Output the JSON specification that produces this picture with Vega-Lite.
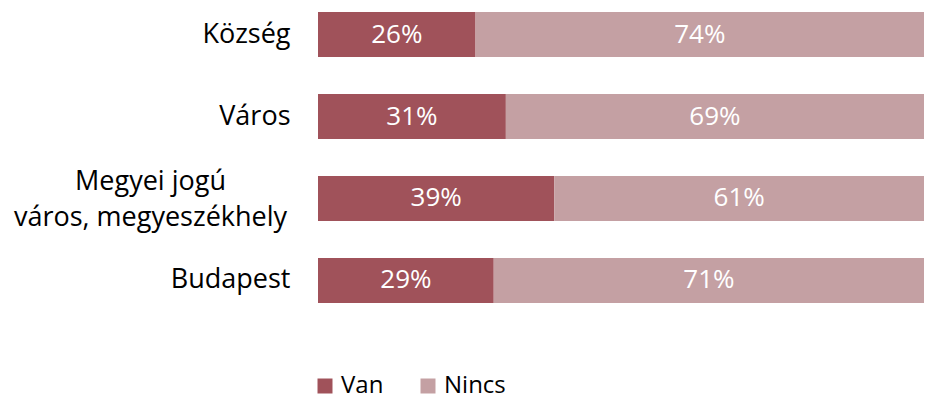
{
  "$schema": "https://vega.github.io/schema/vega-lite/v6.json",
  "autosize": "none",
  "width": 606,
  "height": 315,
  "padding": {"left": 318, "top": 0, "right": 1, "bottom": 86},
  "background": "white",
  "config": {"view": {"stroke": null}, "font": "Open Sans"},
  "data": {"values": [
    {"cat": "Község", "type": "Van", "value": 26, "order": 1},
    {"cat": "Község", "type": "Nincs", "value": 74, "order": 2},
    {"cat": "Város", "type": "Van", "value": 31, "order": 1},
    {"cat": "Város", "type": "Nincs", "value": 69, "order": 2},
    {"cat": "Megyei jogú város, megyeszékhely", "type": "Van", "value": 39, "order": 1},
    {"cat": "Megyei jogú város, megyeszékhely", "type": "Nincs", "value": 61, "order": 2},
    {"cat": "Budapest", "type": "Van", "value": 29, "order": 1},
    {"cat": "Budapest", "type": "Nincs", "value": 71, "order": 2}
  ]},
  "transform": [
    {"stack": "value", "groupby": ["cat"], "sort": [{"field": "order"}], "as": ["v0", "v1"], "offset": "normalize"},
    {"calculate": "(datum.v0 + datum.v1) / 2", "as": "mid"},
    {"calculate": "datum.value + '%'", "as": "label"}
  ],
  "encoding": {
    "y": {
      "field": "cat", "type": "nominal",
      "sort": ["Község", "Város", "Megyei jogú város, megyeszékhely", "Budapest"],
      "scale": {"paddingInner": 0.45, "paddingOuter": 0.146},
      "axis": {
        "title": null, "domain": false, "ticks": false,
        "labelFontSize": 27, "labelColor": "#000000",
        "labelPadding": {"condition": {"test": "datum.value == 'Megyei jogú város, megyeszékhely'", "value": 168}, "value": 28},
        "labelAlign": {"condition": {"test": "datum.value == 'Megyei jogú város, megyeszékhely'", "value": "center"}, "value": "right"},
        "labelOffset": {"condition": {"test": "datum.value == 'Megyei jogú város, megyeszékhely'", "value": -16}, "value": 0},
        "labelLimit": 400, "labelLineHeight": 36,
        "labelExpr": "datum.label == 'Megyei jogú város, megyeszékhely' ? ['Megyei jogú', 'város, megyeszékhely'] : datum.label"
      }
    }
  },
  "layer": [
    {
      "mark": {"type": "bar"},
      "encoding": {
        "x": {"field": "v0", "type": "quantitative", "scale": {"domain": [0, 1]}, "axis": null},
        "x2": {"field": "v1"},
        "color": {
          "field": "type", "type": "nominal",
          "scale": {"domain": ["Van", "Nincs"], "range": ["#A0525A", "#C4A0A3"]},
          "legend": {
            "title": null, "orient": "none", "direction": "horizontal",
            "legendX": -5, "legendY": 374, "padding": 0,
            "symbolType": "square", "symbolSize": 225, "symbolStrokeWidth": 0,
            "labelFontSize": 24, "labelColor": "#000000", "columnPadding": 32,
            "labelOffset": 4
          }
        }
      }
    },
    {
      "mark": {"type": "text", "color": "white", "fontSize": 26, "align": "center", "baseline": "middle"},
      "encoding": {
        "x": {"field": "mid", "type": "quantitative"},
        "text": {"field": "label", "type": "nominal"},
        "detail": {"field": "type"}
      }
    }
  ]
}
